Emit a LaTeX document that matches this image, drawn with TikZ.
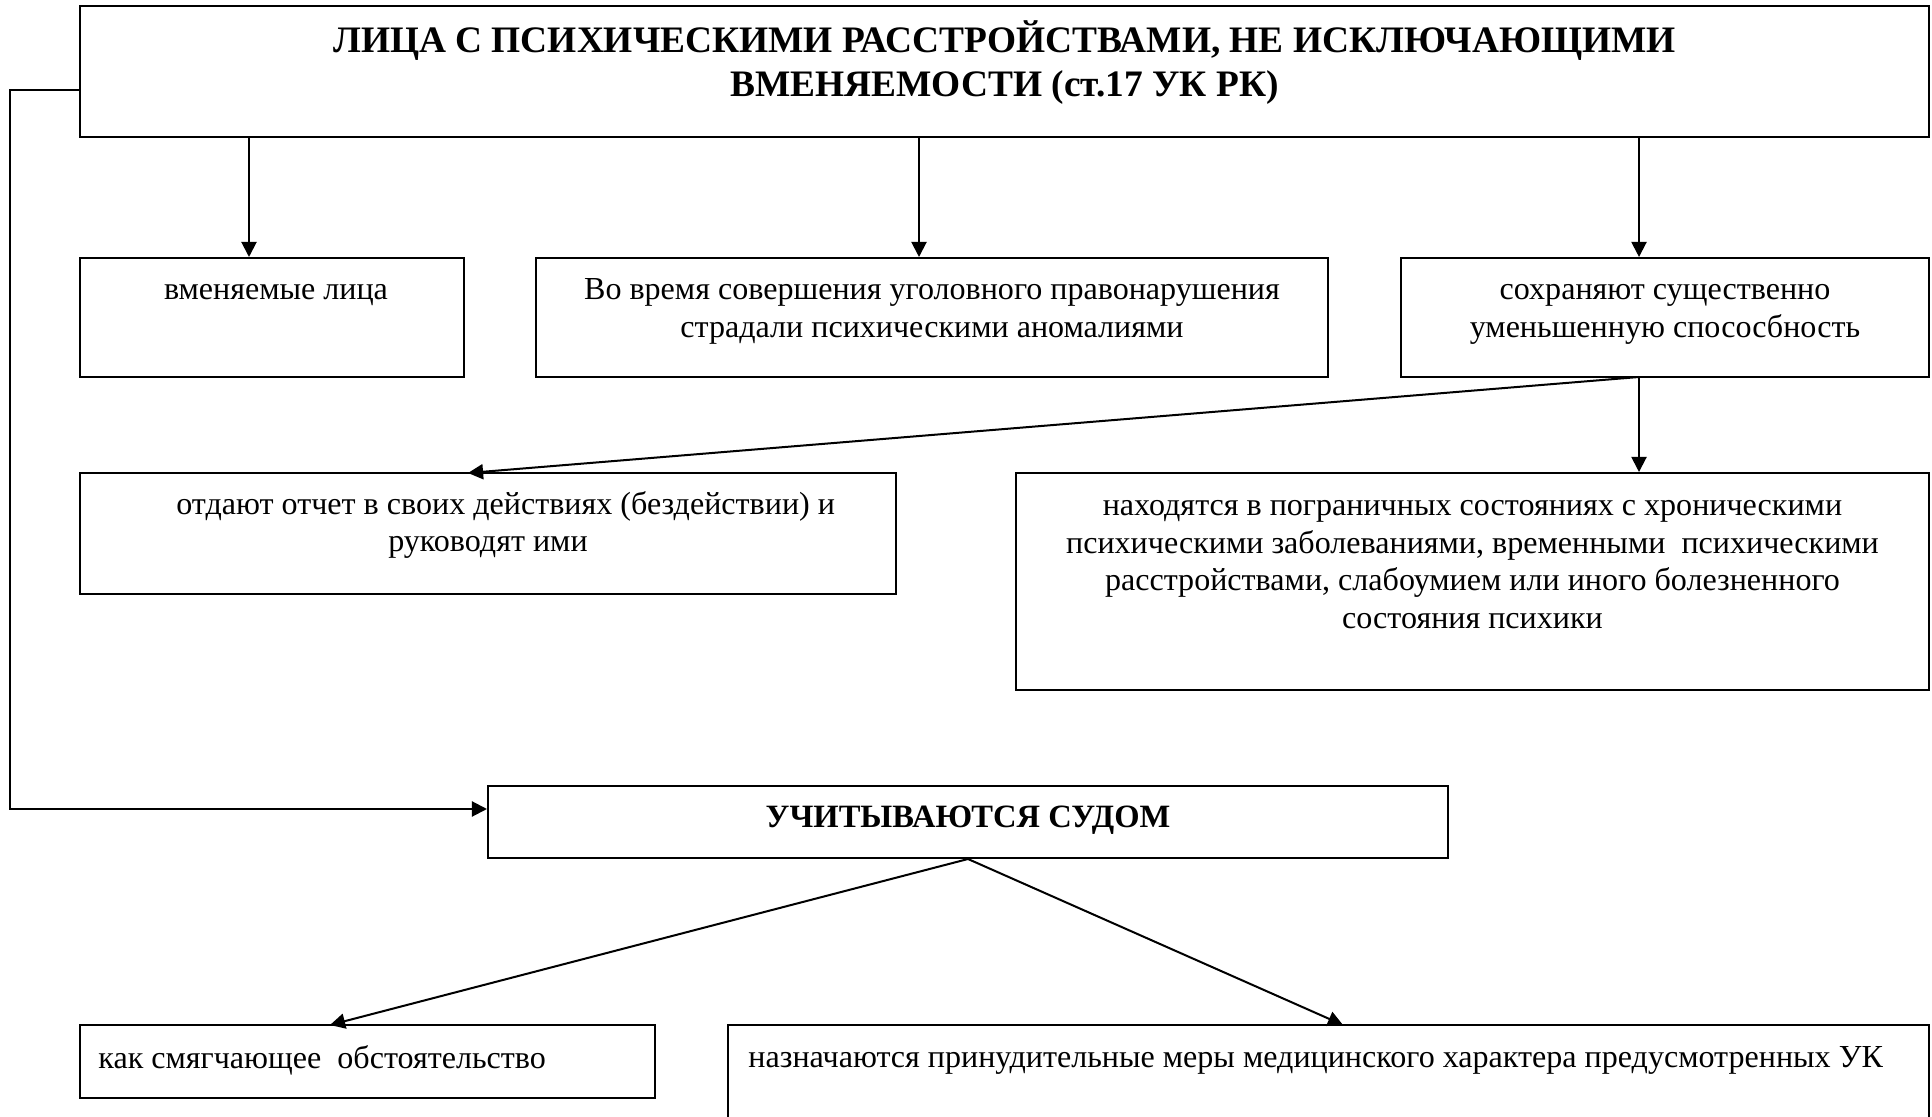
\documentclass[tikz,border=0pt]{standalone}
\usepackage{fontspec}
\setmainfont{Liberation Serif}
\usetikzlibrary{arrows.meta,fit}
\begin{document}
\begin{tikzpicture}[x=0.424pt,y=-0.424pt,
  box/.style={draw, line width=0.85pt, inner sep=0pt},
  arr/.style={line width=0.85pt, -{Triangle[width=6.4pt,length=6.4pt]}},
  body/.style={font=\fontsize{13.6}{15.9}\selectfont, align=center, inner sep=0pt},
  bodyl/.style={font=\fontsize{13.6}{15.9}\selectfont, align=left, inner sep=0pt, anchor=west},
  ttl/.style={font=\bfseries\fontsize{15.85}{18.7}\selectfont, align=center, inner sep=0pt}]
\path[use as bounding box, clip] (0,0) rectangle (1932,1117);
\fill[white] (0,0) rectangle (1932,1117);
% boxes
\node[box, fit={(80,6)(1929,137)}] (top) {};
\node[box, fit={(80,258)(464,377)}] (A) {};
\node[box, fit={(536,258)(1328,377)}] (B) {};
\node[box, fit={(1401,258)(1929,377)}] (C) {};
\node[box, fit={(80,473)(896,594)}] (D) {};
\node[box, fit={(1016,473)(1929,690)}] (E) {};
\node[box, fit={(488,786)(1448,858)}] (U) {};
\node[box, fit={(80,1025)(655,1098)}] (F) {};
\node[box, fit={(728,1025)(1929,1140)}] (G) {};
% texts
\node[ttl] (ttop) at (1004.5,62.5) {ЛИЦА С ПСИХИЧЕСКИМИ РАССТРОЙСТВАМИ, НЕ ИСКЛЮЧАЮЩИМИ\\ВМЕНЯЕМОСТИ (ст.17 УК РК)};
\node[body] (tA) at (276,295) {вменяемые лица};
\node[body] (tB) at (932,311.5) {Во время совершения уголовного правонарушения\\страдали психическими аномалиями};
\node[body] (tC) at (1665,314.5) {сохраняют существенно\\уменьшенную спососбность};
\node[body] (tD) at (488,525) {\hspace*{15pt}отдают отчет в своих действиях (бездействии) и\\руководят ими};
\node[body] (tE) at (1472.5,564.5) {находятся в пограничных состояниях с хроническими\\психическими заболеваниями, временными\ \ психическими\\расстройствами, слабоумием или иного болезненного\\состояния психики};
\node[ttl, font=\bfseries\fontsize{13.8}{16}\selectfont] (tU) at (968,820.5) {УЧИТЫВАЮТСЯ СУДОМ};
\node[bodyl] (tF) at (98,1060.5) {как смягчающее\ \ обстоятельство};
\node[bodyl] (tG) at (748,1060.5) {назначаются принудительные меры медицинского характера предусмотренных УК};
% connectors
\coordinate (s1) at (249,137);
\coordinate (s2) at (919,137);
\coordinate (s3) at (1639,137);
\draw[arr] (s1) -- (s1 |- A.north);
\draw[arr] (s2) -- (s2 |- B.north);
\draw[arr] (s3) -- (s3 |- C.north);
\coordinate (c1) at (1639,377);
\coordinate (d1) at (468,473);
\draw[arr] (c1) -- (c1 |- E.north);
\draw[arr] (c1) -- (d1);
\coordinate (fb1) at (80,90);
\coordinate (fb2) at (10,90);
\coordinate (fb3) at (10,809);
\draw[arr] (fb1) -- (fb2) -- (fb3) -- (fb3 -| U.west);
\coordinate (f1) at (330,1025);
\coordinate (g1) at (1343,1025);
\draw[arr] (U.south) -- (f1);
\draw[arr] (U.south) -- (g1);
\end{tikzpicture}
\end{document}
